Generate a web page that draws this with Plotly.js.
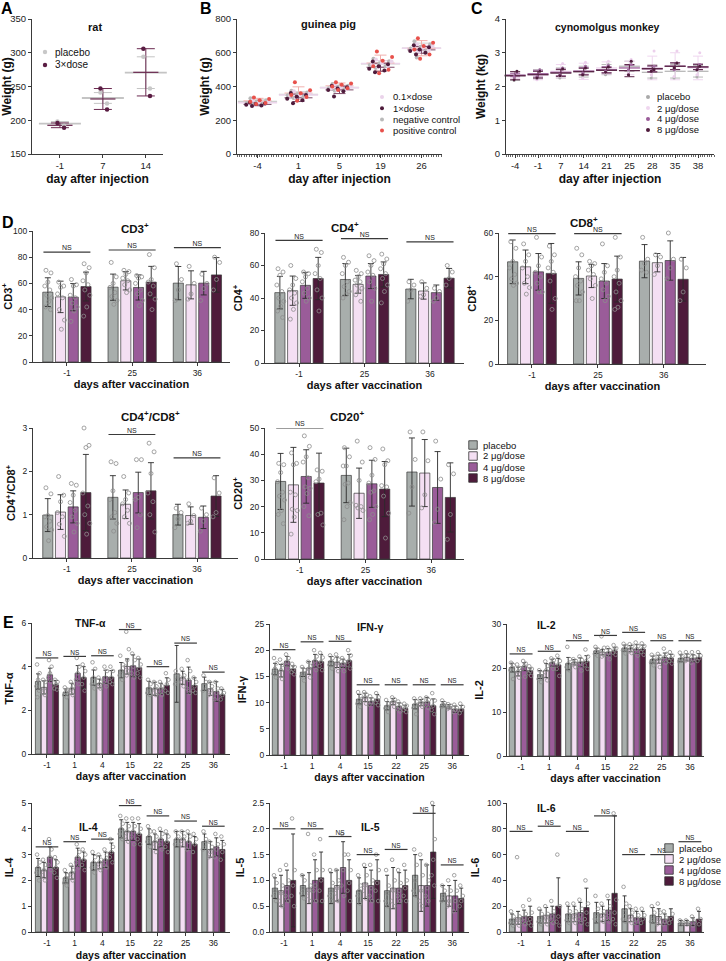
<!DOCTYPE html>
<html><head><meta charset="utf-8">
<script src="https://cdn.plot.ly/plotly-3.0.1.min.js"></script>
<style>html,body{margin:0;padding:0;background:#fff;}#chart{width:726px;height:961px;}</style>
</head><body><div id="chart"></div>
<script>
// ---------------- DATA ----------------
// Panel A (rat)
const ratDays = ['-1','7','14'];
const ratPlaceboPts = [[198,192],[241,225],[294,247]];
const ratDosePts = [[196,189],[247,216],[306,236]];
const ratPlaceboMean = [195,233,270.5];
const ratPlaceboSD = [3,8,23.5];
const ratDoseMean = [192.5,231.5,271];
const ratDoseSD = [3.5,15.5,35];

// Panel B (guinea pig)
const gpDays = ['-4','1','5','19','26'];
const gpLowPts = [[318,312,305,300,296,290],[372,360,352,345,338,330],[410,402,396,390,384,378],[560,548,540,530,522,515],[650,640,630,622,615,605]];
const gpHighPts = [[305,300,296,292,288,284],[362,350,340,328,318,301],[404,396,388,380,372,341],[548,532,520,505,495,484],[645,632,620,610,600,590]];
const gpNegPts = [[330,318,310,302,296,292],[375,365,356,348,340,332],[415,405,398,390,383,375],[565,550,538,528,520,510],[668,650,635,625,612,572]];
const gpPosPts = [[335,326,318,310,302,296],[425,378,360,350,338,316],[425,418,410,400,390,380],[607,575,552,520,500,479],[686,660,640,620,590,565]];
const gpLowMean = [304,350,393,536,627];
const gpHighMean = [294,333,380,514,617];
const gpNegMean = [311,353,394,534,627];
const gpPosMean = [315,361,404,539,627];
const gpLowSD = [10,15,12,17,17];
const gpHighSD = [8,22,22,24,20];
const gpNegSD = [14,16,14,20,30];
const gpPosSD = [15,37,17,47,45];

// Panel C (cynomolgus monkey)
const cmDays = ['-4','-1','7','14','21','25','28','35','38'];
const cmPlaceboPts = [[2.18,2.45],[2.22,2.5],[2.25,2.55],[2.28,2.6],[2.35,2.65],[2.45,2.75],[2.25,2.6],[2.25,2.65],[2.28,2.62]];
const cmPlaceboMean = [2.31,2.36,2.40,2.44,2.50,2.60,2.42,2.45,2.45];
const cmPlaceboSD = [0.13,0.14,0.15,0.16,0.15,0.15,0.17,0.20,0.17];
const cm2Pts = [[2.25,2.4],[2.2,2.48],[2.3,2.68],[2.25,2.72],[2.4,2.75],[2.4,2.8],[2.35,3.05],[2.3,3.05],[2.35,3.0]];
const cm2Mean = [2.32,2.34,2.45,2.45,2.55,2.55,2.55,2.60,2.55];
const cm2SD = [0.08,0.14,0.2,0.24,0.18,0.2,0.35,0.4,0.35];
const cm4Pts = [[2.3,2.4],[2.3,2.5],[2.35,2.55],[2.4,2.6],[2.45,2.62],[2.5,2.65],[2.45,2.6],[2.5,2.7],[2.5,2.65]];
const cm4Mean = [2.34,2.38,2.42,2.46,2.50,2.55,2.52,2.60,2.58];
const cm4SD = [0.05,0.1,0.1,0.1,0.09,0.08,0.08,0.1,0.08];
const cm8Pts = [[2.2,2.45],[2.25,2.45],[2.32,2.52],[2.35,2.55],[2.42,2.58],[2.35,2.75],[2.45,2.5],[2.55,2.7],[2.5,2.6]];
const cm8Mean = [2.32,2.35,2.40,2.44,2.48,2.47,2.53,2.60,2.58];
const cm8SD = [0.12,0.1,0.1,0.1,0.08,0.18,0.1,0.1,0.08];

// Panel D (lymphocytes), groups: placebo, 2, 4, 8 ug/dose ; days -1, 25, 36
const dDays = ['-1','25','36'];
const cd3Means = [[53.3,57.1,60.2],[49.7,62.0,58.9],[49.5,56.9,60.2],[57.6,61.0,66.5]];
const cd3SDs = [[11,10,12.7],[12,7,10.7],[10.4,9.6,9],[11,12,13.2]];
const cd3Pts = [
 [[70,68,61,58,55,51,49,46,42,40],[76,65,60,57,53,50,47,44],[75,63,55,47]],
 [[61,58,57,52,49,40,32,25],[70,69,67,64,62,59,55,53],[73,60,52,48]],
 [[63,59,58,51,49,45,42,39,31],[66,65,64,60,55,52,47,43],[67,60,56,47]],
 [[75,72,68,62,59,55,51,42,35],[82,72,63,61,58,52,48,40],[80,76,63,55]]];
const cd3NS = [83.8,85.5,87.3];

const cd4Means = [[43.3,51.4,45.5],[44.5,48.4,44.3],[47.8,53.5,43.3],[52.0,54.5,52.2]];
const cd4SDs = [[10,9.8,6],[9,5.5,5],[8,7.7,4.7],[13,7.7,6]];
const cd4Pts = [
 [[58,56,54,48,44,40,38,35,32,28],[65,62,60,55,50,47,44,42,40],[50,48,45,38]],
 [[60,52,48,45,43,40,37,33,27],[57,55,53,51,50,48,46,44,42,38],[50,46,42,41]],
 [[56,55,53,50,46,43,40,38],[66,63,60,56,54,50,46,38],[46,44,40,38]],
 [[70,68,60,55,52,45,40,32],[67,64,61,58,55,52,48,44,37],[60,56,52,48]]];
const cd4NS = [75.5,76.5,74.5];

const cd8Means = [[46.8,39.2,47.1],[44.5,40.3,46.4],[42.2,38.0,47.4],[41.5,38.9,38.8]];
const cd8SDs = [[10,7.6,7.6],[7.7,5.3,4.2],[8.4,8,9],[13.7,10.5,10]];
const cd8Pts = [
 [[56,53,47,44,41,39,37,36],[53,50,44,40,38,36,33,29,29],[58,48,46,43,42]],
 [[55,50,47,44,40,37,35,32],[47,46,45,43,41,39,36,30],[50,49,45,41]],
 [[58,49,45,42,40,37,33,33],[55,45,42,39,37,34,31,29],[60,48,44,39]],
 [[54,50,47,44,42,38,30,25],[58,49,43,40,37,33,29,26,25],[48,44,33,29]]];
const cd8NS = [59.7,59.7,61.7];

const ratioMeans = [[0.99,1.40,1.00],[1.06,1.24,0.98],[1.18,1.51,0.94],[1.51,1.55,1.43]];
const ratioSDs = [[0.38,0.5,0.24],[0.4,0.33,0.2],[0.37,0.47,0.26],[0.88,0.65,0.47]];
const ratioPts = [
 [[1.62,1.48,0.98,0.95,0.85,0.72,0.65,0.4],[2.22,2.18,1.55,1.35,1.05,0.95,0.8,0.62],[1.15,1.05,0.9,0.7]],
 [[1.88,1.45,1.3,1.05,0.95,0.78,0.5],[1.88,1.5,1.35,1.25,1.1,0.95,0.8],[1.25,0.98,0.85,0.8]],
 [[1.72,1.68,1.45,1.28,1.1,0.95,0.8,0.6],[2.27,2.27,1.4,1.35,1.0,0.7],[1.15,1.0,0.85,0.62]],
 [[3.0,2.6,2.55,1.5,1.2,1.0,0.8,0.55],[2.65,2.45,1.95,1.5,1.3,1.0,0.6],[1.85,1.5,1.05,0.95]]];
const ratioNS = [3.14,2.85,2.31];

const cd20Means = [[29.6,31.9,33.2],[28.3,25.1,32.8],[31.5,28.7,27.3],[29.0,26.7,23.5]];
const cd20SDs = [[10.7,10.4,13],[14.3,9.6,12.8],[10.2,9,13.7],[11.4,10.5,13.2]];
const cd20Pts = [
 [[36.5,36,33,29.5,25.5,24,22.5,18.5,17,13.5],[42.5,39,35.5,35.5,29,28.5,21.5,20,15],[48.5,38,27.5,17.5]],
 [[40.5,36.5,36,25.5,24.5,19,18.5,16,9.5],[45,37,30,20.5,20,19.5,18.5],[48.5,37.5,24.5,19.5]],
 [[47,43,39,37,31,27.5,27,25,20,16.5],[42.5,38,32,29,26,25.5,20,17,15],[45,30.5,19,14]],
 [[34,33.5,30.5,29.5,17.5,17,13],[42,37.5,36,28,27.5,24,17.5,8],[36,32.5,17,7.5]]];
const cd20NS = [50.0,50.3,50.4];

// Panel E (cytokines) ; days -1,1,4,15,22,25,36
const eDays = ['-1','1','4','15','22','25','36'];
const tnfMeans = [[3.32,2.83,3.50,3.84,3.03,3.67,3.22],[3.05,2.99,3.23,4.01,2.99,3.49,2.99],[3.63,3.70,3.54,4.04,2.99,3.38,2.86],[3.17,3.50,3.52,3.95,3.14,3.14,2.71]];
const tnfSDs = [[0.35,0.15,0.35,0.35,0.3,1.3,0.3],[0.3,0.25,0.2,0.35,0.3,0.3,0.3],[0.3,0.35,0.3,0.5,0.25,0.6,0.45],[0.2,0.5,0.3,0.4,0.35,0.35,0.25]];
const tnfPts = [
 [[4.1,3.7,3.4,3.1,2.9,2.6],[3.05,2.95,2.85,2.7,2.6],[4.2,3.9,3.5,3.2,3.0],[4.5,4.1,3.8,3.6,3.4],[3.4,3.2,3.0,2.8,2.7],[3.8,3.6,3.4,3.2],[3.6,3.3,3.1,2.9]],
 [[3.4,3.3,3.0,2.8,2.7],[3.3,3.1,3.0,2.8,2.7],[3.5,3.3,3.2,3.1,3.0],[5.6,4.8,4.3,4.0,3.8,3.6],[3.3,3.1,3.0,2.8,2.7],[3.9,3.6,3.5,3.3,3.1],[3.3,3.1,2.9,2.7]],
 [[4.3,4.0,3.7,3.5,3.3],[4.4,4.0,3.7,3.4,3.2],[4.0,3.8,3.5,3.3,3.1],[4.6,4.3,4.0,3.7,3.5],[3.3,3.1,3.0,2.8,2.7],[4.3,3.8,3.4,3.0,2.8],[3.3,3.0,2.8,2.5]],
 [[3.4,3.3,3.2,3.0,2.95],[4.1,3.8,3.5,3.2,2.9],[4.0,3.8,3.5,3.3,3.2],[4.4,4.1,3.9,3.7,3.5],[3.7,3.4,3.2,2.9,2.8],[3.5,3.3,3.1,2.9,2.8],[3.0,2.8,2.7,2.5]]];
const tnfNS = [4.4,4.47,4.5,5.7,4.0,5.08,3.75];

const ifnMeans = [[16.4,15.8,17.9,10.65,9.4,9.7,9.7],[16.1,16.6,17.7,11.0,10.2,10.0,9.2],[17.9,18.0,17.5,10.2,9.25,10.1,8.75],[16.4,17.8,18.0,10.65,8.9,9.4,8.75]];
const ifnSDs = [[1.1,0.8,0.9,0.9,0.8,0.9,0.5],[1.2,1.2,1.0,0.8,0.6,0.6,0.4],[0.9,1.2,0.8,0.7,0.7,0.9,0.6],[0.6,1.4,1.2,0.9,0.6,1.3,0.7]];
const ifnPts = [
 [[18.5,17.5,16.5,15.5,14.8],[16.8,16.2,15.5,15.0,14.2],[19.0,18.5,17.8,17.2,16.5],[12.0,11.3,10.5,9.8,9.2],[10.5,9.8,9.3,8.9,8.2],[10.8,10.2,9.6,9.0,7.8],[10.4,9.9,9.6,9.2]],
 [[18.2,17.2,16.2,15.2,14.5],[17.8,17.0,16.5,15.8,14.8],[19.2,18.2,17.5,16.8,16.0],[12.0,11.5,11.0,10.5,9.8],[11.0,10.6,10.2,9.8,9.2],[10.8,10.4,10.0,9.6,9.2],[9.7,9.4,9.1,8.8]],
 [[19.2,18.5,17.8,17.2,16.5],[20.0,18.8,18.0,17.2,16.2],[18.5,17.8,17.4,16.8,16.0],[11.2,10.6,10.1,9.6],[10.2,9.6,9.2,8.8,8.3],[11.0,10.5,10.1,9.5,9.0],[9.6,9.0,8.6,8.2]],
 [[17.4,16.8,16.3,15.8,15.4],[19.5,18.6,17.8,17.0,16.2],[20.0,19.0,18.0,17.2,16.5],[11.8,11.0,10.5,10.0,9.5],[9.8,9.4,9.0,8.6,8.2],[11.8,10.4,9.4,8.6,7.8],[9.8,9.2,8.6,8.0]]];
const ifnNS = [20.1,21.6,21.7,13.4,13.4,13.4,13.4];

const il2Means = [[20.1,18.5,21.0,23.9,24.5,21.9,22.2],[19.2,19.4,21.3,23.6,24.4,22.0,22.4],[20.3,21.2,21.3,23.6,24.3,22.4,22.2],[19.4,20.7,21.5,23.9,24.3,22.2,22.4]];
const il2SDs = [[1.0,0.9,1.4,0.6,0.7,0.8,0.8],[1.0,1.6,0.6,0.6,0.7,0.9,0.8],[0.9,0.8,1.0,0.8,1.0,1.0,0.8],[0.6,1.5,1.3,0.7,0.9,0.9,0.9]];
const il2Pts = [
 [[21.2,20.6,20.1,19.5,17.5],[19.5,18.8,18.2,17.5,16.8],[24.8,22.0,21.0,20.2,19.5],[24.8,24.2,23.8,23.2,22.8],[25.5,25.0,24.5,24.0,23.3],[23.0,22.5,21.8,21.2,20.6],[23.5,22.8,22.0,21.5]],
 [[20.8,20.0,19.2,18.5,17.8],[21.5,20.5,19.5,18.3,17.2],[22.0,21.6,21.2,20.8,20.2],[27.2,24.6,24.0,23.5,23.0,22.6],[25.4,25.0,24.4,23.8,23.4],[23.2,22.6,22.0,21.3,20.2],[23.6,22.8,22.2,21.6]],
 [[21.6,21.0,20.4,19.8,18.0],[22.2,21.8,21.2,20.6,19.8],[22.6,21.8,21.2,20.6,19.4],[24.6,24.0,23.5,23.0,22.0],[25.8,25.0,24.3,23.6,22.8],[24.4,23.2,22.5,21.8,21.2],[23.6,22.6,22.0,21.2]],
 [[20.4,19.8,19.3,18.8,18.2],[22.8,21.6,20.8,19.8,18.2],[24.2,22.6,21.6,20.6,19.8],[25.2,24.5,24.0,23.5,23.0],[25.6,25.0,24.3,23.6,23.0],[23.6,22.8,22.2,21.6,21.0],[23.6,22.8,22.2,21.6]]];
const il2NS = [23.2,23.8,26.2,27.4,28.1,26.2,26.2];

const il4Means = [[2.5,2.1,2.7,4.0,3.7,3.6,3.5],[2.4,2.3,2.7,3.9,3.5,3.6,3.2],[2.9,2.9,2.8,3.9,3.6,3.5,3.3],[2.5,2.8,3.1,3.8,3.5,3.4,3.2]];
const il4SDs = [[0.35,0.2,0.3,0.35,0.3,0.3,0.3],[0.3,0.25,0.25,0.35,0.3,0.3,0.3],[0.4,0.35,0.3,0.35,0.3,0.3,0.35],[0.3,0.3,0.35,0.4,0.3,0.3,0.35]];
const il4Pts = [
 [[3.0,2.7,2.5,2.3,2.0],[2.4,2.2,2.1,1.9,1.8],[3.1,2.9,2.7,2.5,2.3],[4.5,4.2,4.0,3.8,3.6],[4.1,3.9,3.7,3.5,3.3],[3.9,3.7,3.6,3.4],[3.9,3.6,3.4,3.2]],
 [[2.8,2.6,2.4,2.2,2.0],[2.6,2.4,2.3,2.1,2.0],[3.0,2.8,2.7,2.5,2.4],[4.4,4.1,3.9,3.7,3.5],[3.9,3.7,3.5,3.3,3.1],[3.9,3.7,3.6,3.4],[3.5,3.3,3.1,2.9]],
 [[3.6,3.2,2.9,2.6,2.4],[3.4,3.1,2.9,2.7,2.5],[3.2,3.0,2.8,2.6,2.5],[4.4,4.1,3.9,3.7,3.4],[4.0,3.8,3.6,3.4,3.2],[3.9,3.7,3.5,3.2],[3.8,3.4,3.2,2.9]],
 [[2.9,2.7,2.5,2.3,2.1],[3.2,3.0,2.8,2.6,2.4],[3.6,3.3,3.1,2.9,2.7],[4.4,4.0,3.8,3.6,3.4],[3.9,3.7,3.5,3.3,3.1],[3.8,3.6,3.4,3.1],[3.7,3.4,3.1,2.8]]];
const il4NS = [3.3,3.5,3.6,4.9,4.5,4.3,4.1];

const il5Means = [[0.85,0.9,0.85,0.8,0.8,1.1,0.75],[0.8,0.85,0.9,0.95,0.85,0.9,0.7],[0.9,1.0,1.25,0.9,0.85,0.9,0.7],[1.0,1.05,1.0,1.0,0.9,1.55,0.65]];
const il5SDs = [[0.2,0.2,0.3,0.25,0.3,0.4,0.15],[0.3,0.3,0.3,0.3,0.4,0.5,0.2],[0.3,0.4,0.5,0.3,0.3,0.4,0.3],[0.9,0.5,0.4,0.4,0.3,0.9,0.2]];
const il5Pts = [
 [[1.1,0.95,0.8,0.7,0.6],[1.1,1.0,0.85,0.75,0.65],[1.2,0.95,0.8,0.7,0.6],[1.1,0.9,0.8,0.7,0.55],[1.2,0.9,0.75,0.6,0.5],[1.6,1.3,1.0,0.8,0.7],[0.9,0.8,0.7,0.6]],
 [[1.2,0.9,0.75,0.6,0.5],[1.9,0.9,0.8,0.7,0.6],[1.2,1.0,0.85,0.75,0.6],[1.3,1.1,0.9,0.8,0.65],[1.4,1.0,0.8,0.6,0.5],[1.5,1.1,0.8,0.6,0.5],[1.0,0.8,0.6,0.5]],
 [[1.3,1.0,0.85,0.7,0.6],[1.5,1.2,0.9,0.8,0.6],[1.9,1.5,1.2,0.9,0.7],[1.3,1.0,0.85,0.7,0.6],[1.2,0.95,0.8,0.7,0.6],[1.3,1.0,0.85,0.7,0.6],[1.1,0.8,0.6,0.4]],
 [[2.2,1.2,0.9,0.7,0.5],[1.8,1.2,1.0,0.8,0.6],[1.5,1.2,0.95,0.8,0.6],[1.5,1.2,0.95,0.8,0.6],[1.3,1.0,0.85,0.7,0.6],[2.5,1.8,1.4,1.1,0.9],[0.9,0.7,0.6,0.5]]];
const il5NS = [2.0,2.0,1.85,1.5,1.6,2.3,1.3];

const il6Means = [[10,12,14,15,18,13,7],[11,13,14,14,13,12,7],[12,14,15,17,11,10,8],[12,20,19,30,11,12,10]];
const il6SDs = [[4,5,6,8,10,6,2],[5,6,6,6,5,6,2],[5,6,8,8,5,4,3],[8,22,15,60,5,6,6]];
const il6Pts = [
 [[16,12,9,7,5],[18,14,11,8,6],[22,16,13,9,7],[28,18,14,10,8],[35,22,15,10,8],[20,15,12,8],[9,7,6]],
 [[58,12,9,7,5],[20,14,11,8,6],[22,16,12,9,7],[22,16,13,10,8],[20,15,12,9,7],[22,15,10,6],[9,7,6]],
 [[20,14,11,8,6],[24,16,12,9,7],[25,18,13,10,7],[28,20,15,11,8],[18,13,10,7],[16,11,8,6],[12,8,5]],
 [[25,15,10,7,5],[60,20,12,8,5],[40,22,15,10,6],[92,25,15,10,6],[18,13,10,7],[40,14,10,7],[18,10,6]]];
const il6NS = [78,82,78,90,60,60,70];

const groupNames = ['placebo','2 μg/dose','4 μg/dose','8 μg/dose'];

// ---------------- DRAWING ----------------
const W = 726, H = 961;
const FONT = '"Liberation Sans", Arial, Helvetica, sans-serif';
const COLS = ['#a8aeac','#f4dff3','#9a5c99','#4e1b3b'];
const data = [];
const layout = {
  width: W, height: H, margin: {l:0, r:0, t:0, b:0},
  paper_bgcolor: '#fff', plot_bgcolor: 'rgba(0,0,0,0)',
  showlegend: false, barmode: 'overlay', hovermode: false,
  font: {family: FONT, color: '#222'},
  annotations: [], shapes: []
};

function ids(i){ return i===1 ? ['x','y','xaxis','yaxis'] : ['x'+i,'y'+i,'xaxis'+i,'yaxis'+i]; }

function addAxes(i, box, xr, yr, ticktext, st){
  const [xid, yid, xk, yk] = ids(i);
  const common = {showline:true, linecolor:'#3a3a3a', linewidth:1, ticks:'outside', ticklen:3, tickwidth:1,
    tickcolor:'#3a3a3a', showgrid:false, zeroline:false, fixedrange:true};
  layout[xk] = Object.assign({}, common, {
    domain:[box[0]/W, box[1]/W], range:xr, anchor:yid,
    tickmode:'array', tickvals:ticktext.map((_,k)=>k), ticktext:ticktext,
    tickfont:{size:st.tf, color:'#222'},
    title:{text:'<b>'+st.xt+'</b>', font:{size:st.xtf, color:'#111'}, standoff:st.xso}
  });
  if (st.minor) layout[xk].minor = {tickmode:'linear', tick0:xr[0], dtick:st.minor, ticks:'outside', ticklen:2, tickcolor:'#666', showgrid:false};
  layout[yk] = Object.assign({}, common, {
    domain:[1-box[3]/H, 1-box[2]/H], range:yr, anchor:xid,
    tickmode:'linear', tick0:st.t0, dtick:st.dt,
    tickfont:{size:st.tf, color:'#222'},
    title:{text:'<b>'+st.yt+'</b>', font:{size:st.ytf, color:'#111'}, standoff:st.yso}
  });
  if (st.yfmt) layout[yk].tickformat = st.yfmt;
  return [xid, yid];
}

function ann(text, x, y, size, extra){
  layout.annotations.push(Object.assign({text:text, x:x/W, y:1-y/H, xref:'paper', yref:'paper', showarrow:false,
    font:{size:size, color:'#111', family:FONT}, xanchor:'center', yanchor:'middle'}, extra||{}));
}
function dot(x, y, r, color){
  layout.shapes.push({type:'circle', xref:'paper', yref:'paper', xsizemode:'pixel', ysizemode:'pixel',
    xanchor:x/W, yanchor:1-y/H, x0:-r, x1:r, y0:-r, y1:r, fillcolor:color, line:{width:0}});
}
function sq(x, y, s, color){
  layout.shapes.push({type:'rect', xref:'paper', yref:'paper', xsizemode:'pixel', ysizemode:'pixel',
    xanchor:x/W, yanchor:1-y/H, x0:-s/2, x1:s/2, y0:-s/2, y1:s/2, fillcolor:color, line:{width:0.8, color:'#333'}});
}

// jittered scatter points around category centres
function jitterPts(ptsByDay, centreOff, spread){
  const xs=[], ys=[];
  ptsByDay.forEach((arr,k)=>arr.forEach((v,m)=>{
    const f = ((m*0.618 + 0.27) % 1) - 0.5;
    xs.push(k + centreOff + f*spread); ys.push(v);
  }));
  return [xs, ys];
}

function meanTrace(xid, yid, means, sds, color, size, cap, lw){
  return {type:'scatter', mode:'markers', x:means.map((_,k)=>k), y:means, xaxis:xid, yaxis:yid,
    marker:{symbol:'line-ew', size:size, color:color, line:{width:lw||1.6, color:color}},
    error_y:{type:'data', array:sds, visible:true, color:color, thickness:1, width:cap}, cliponaxis:false, hoverinfo:'skip'};
}

function ptTrace(xid, yid, xy, color, size){
  return {type:'scatter', mode:'markers', x:xy[0], y:xy[1], xaxis:xid, yaxis:yid,
    marker:{symbol:'circle', size:size, color:color}, cliponaxis:false, hoverinfo:'skip'};
}

const LETTER = {size:16, color:'#000', family:FONT};

// ---- Panel A ----
(function(){
  const [x,y] = addAxes(1, [32,163,19,154], [-0.65,2.4], [150,350], ratDays,
    {tf:9.5, xt:'day after injection', xtf:12, xso:4, yt:'Weight (g)', ytf:12, yso:3, t0:150, dt:50});
  data.push(meanTrace(x,y,ratPlaceboMean,ratPlaceboSD,'#c4c4c4',30,9,1.8));
  data.push(meanTrace(x,y,ratDoseMean,ratDoseSD,'#6b2a50',18,9,1.2));
  data.push(ptTrace(x,y,jitterPts(ratPlaceboPts,0,0.25),'#c8c8c8',4.5));
  data.push(ptTrace(x,y,jitterPts(ratDosePts,0,0.25),'#5a1d43',4.5));
  ann('<b>rat</b>', 95, 27, 11);
  ann('<b>A</b>', 7, 8, 16, {font:LETTER});
  dot(45,52,2.2,'#c8c8c8'); ann('placebo', 53, 52, 10, {xanchor:'left'});
  dot(45,65,2.2,'#5a1d43'); ann('3×dose', 53, 65, 10, {xanchor:'left'});
})();

// ---- Panel B ----
(function(){
  const [x,y] = addAxes(2, [237,442,19,154], [-0.5,4.5], [0,800], gpDays,
    {tf:9.5, xt:'day after injection', xtf:12, xso:4, yt:'Weight (g)', ytf:12, yso:3, t0:0, dt:200, minor:0.06});
  data.push(meanTrace(x,y,gpNegMean,gpNegSD,'#cfcfcf',28,8,1.4));
  data.push(meanTrace(x,y,gpLowMean,gpLowSD,'#ecd6ec',28,8,1.4));
  data.push(meanTrace(x,y,gpPosMean,gpPosSD,'#f1b0ad',20,6,1));
  data.push(meanTrace(x,y,gpHighMean,gpHighSD,'#7d4a68',20,6,1));
  data.push(ptTrace(x,y,jitterPts(gpNegPts,-0.03,0.62),'#b9b9b9',4));
  data.push(ptTrace(x,y,jitterPts(gpLowPts,0.03,0.62),'#ead3ea',4));
  data.push(ptTrace(x,y,jitterPts(gpHighPts,-0.05,0.6),'#4e1b3b',4));
  data.push(ptTrace(x,y,jitterPts(gpPosPts,0.05,0.6),'#e8514b',4));
  ann('<b>guinea pig</b>', 328, 24, 11);
  ann('<b>B</b>', 206, 8, 16, {font:LETTER});
  const lc = ['#ead3ea','#4e1b3b','#b9b9b9','#e8514b'];
  const lt = ['0.1×dose','1×dose','negative control','positive control'];
  lt.forEach((t,k)=>{ dot(382, 97+11.2*k, 2, lc[k]); ann(t, 391, 97+11.2*k, 9.5, {xanchor:'left'}); });
})();

// ---- Panel C ----
(function(){
  const [x,y] = addAxes(3, [506,714,19,154], [-0.4,8.7], [0,4], cmDays,
    {tf:9.5, xt:'day after injection', xtf:12, xso:4, yt:'Weight (kg)', ytf:12, yso:6, t0:0, dt:1, minor:0.1});
  data.push(meanTrace(x,y,cmPlaceboMean,cmPlaceboSD,'#b8b8b8',15,5,1.3));
  data.push(meanTrace(x,y,cm2Mean,cm2SD,'#efd6ef',15,5,1.3));
  data.push(meanTrace(x,y,cm4Mean,cm4SD,'#a26ca1',15,5,1.3));
  data.push(meanTrace(x,y,cm8Mean,cm8SD,'#5a2547',15,5,1.3));
  data.push(ptTrace(x,y,jitterPts(cmPlaceboPts,0,0.2),'#b0b0b0',3));
  data.push(ptTrace(x,y,jitterPts(cm2Pts,0,0.2),'#ecd0ec',3));
  data.push(ptTrace(x,y,jitterPts(cm4Pts,0,0.2),'#a26ca1',3));
  data.push(ptTrace(x,y,jitterPts(cm8Pts,0,0.2),'#4e1b3b',3));
  ann('<b>cynomolgus monkey</b>', 607, 27, 10.5);
  ann('<b>C</b>', 477, 8, 16, {font:LETTER});
  const lc = ['#a9a9a9','#efd6ef','#9a5c99','#4e1b3b'];
  groupNames.forEach((t,k)=>{ dot(648, 97+11*k, 2, lc[k]); ann(t, 655, 97+11*k, 9.5, {xanchor:'left'}); });
})();

// ---- generic bar panel ----
function barPanel(i, box, xr, yr, days, means, sds, pts, ns, st){
  const [x,y] = addAxes(i, box, xr, yr, days, st);
  const bw = st.bw, gap = st.gap, total = 4*bw + 3*gap;
  for (let g=0; g<4; g++){
    const off = -total/2 + g*(bw+gap);
    data.push({type:'bar', x:days.map((_,k)=>k), y:means[g], width:bw, offset:off, xaxis:x, yaxis:y,
      marker:{color:COLS[g], line:{color:'#3a3a3a', width:0.7}},
      error_y:{type:'data', array:sds[g], visible:true, color:'#2a2a2a', thickness:0.9, width:st.cap}, hoverinfo:'skip'});
  }
  for (let g=0; g<4; g++){
    const off = -total/2 + g*(bw+gap) + bw/2;
    const xy = jitterPts(pts[g], off, bw*0.8);
    data.push({type:'scatter', mode:'markers', x:xy[0], y:xy[1], xaxis:x, yaxis:y,
      marker:{symbol:'circle-open', size:st.ms, color:'#8d8d8d', line:{width:0.8}}, cliponaxis:false, hoverinfo:'skip'});
  }
  const lx=[], ly=[];
  ns.forEach((h,k)=>{ lx.push(k-total/2+0.01, k+total/2-0.01, null); ly.push(h,h,null); });
  data.push({type:'scatter', mode:'lines', x:lx, y:ly, xaxis:x, yaxis:y, line:{color:'#3a3a3a', width:1.2}, hoverinfo:'skip'});
  data.push({type:'scatter', mode:'text', x:ns.map((_,k)=>k), y:ns, text:ns.map(()=>'NS'), textposition:'top center',
    textfont:{size:st.nsf, color:'#222', family:FONT}, xaxis:x, yaxis:y, cliponaxis:false, hoverinfo:'skip'});
}

const dSt = {tf:8.5, xt:'days after vaccination', xtf:11, xso:3, ytf:11, yso:4, bw:0.155, gap:0.04, cap:3, ms:4, nsf:7};
barPanel(4, [33,230,231,362], [-0.52,2.5], [0,100], dDays, cd3Means, cd3SDs, cd3Pts, cd3NS, Object.assign({}, dSt, {yt:'CD3<sup>+</sup>', t0:0, dt:20}));
barPanel(5, [265,464,233,363], [-0.52,2.52], [0,80], dDays, cd4Means, cd4SDs, cd4Pts, cd4NS, Object.assign({}, dSt, {yt:'CD4<sup>+</sup>', t0:0, dt:20}));
barPanel(6, [499,706,233,364], [-0.5,2.64], [0,60], dDays, cd8Means, cd8SDs, cd8Pts, cd8NS, Object.assign({}, dSt, {yt:'CD8<sup>+</sup>', t0:0, dt:20}));
barPanel(7, [33,238,428,558], [-0.52,2.63], [0,3], dDays, ratioMeans, ratioSDs, ratioPts, ratioNS, Object.assign({}, dSt, {yt:'CD4<sup>+</sup>/CD8<sup>+</sup>', t0:0, dt:1}));
barPanel(8, [265,464,428,559], [-0.53,2.5], [0,50], dDays, cd20Means, cd20SDs, cd20Pts, cd20NS, Object.assign({}, dSt, {yt:'CD20<sup>+</sup>', t0:0, dt:10}));
ann('<b>CD3<sup>+</sup></b>', 135, 228, 11.5);
ann('<b>CD4<sup>+</sup></b>', 345, 227, 11.5);
ann('<b>CD8<sup>+</sup></b>', 584, 222, 11.5);
ann('<b>CD4<sup>+</sup>/CD8<sup>+</sup></b>', 150, 416, 11.5);
ann('<b>CD20<sup>+</sup></b>', 347, 416, 11.5);
ann('<b>D</b>', 8, 222, 16, {font:LETTER});
groupNames.forEach((t,k)=>{ sq(473, 445+11*k, 8.5, COLS[k]); ann(t, 481, 445+11*k, 9.5, {xanchor:'left'}); });

const eSt = {tf:8.5, xt:'days after vaccination', xtf:10.5, xso:2, ytf:11, yso:5, bw:0.19, gap:0.025, cap:2, ms:3.6, nsf:6.5};
barPanel(9,  [32,230,623,754], [-0.54,6.6], [0,6], eDays, tnfMeans, tnfSDs, tnfPts, tnfNS, Object.assign({}, eSt, {yt:'TNF-α', t0:0, dt:2}));
barPanel(10, [270,469,624,755], [-0.5,6.6], [0,25], eDays, ifnMeans, ifnSDs, ifnPts, ifnNS, Object.assign({}, eSt, {yt:'IFN-γ', t0:0, dt:5}));
barPanel(11, [507,704,624,756], [-0.5,6.5], [0,30], eDays, il2Means, il2SDs, il2Pts, il2NS, Object.assign({}, eSt, {yt:'IL-2', t0:0, dt:10}));
barPanel(12, [32,230,803,932], [-0.54,6.6], [0,5], eDays, il4Means, il4SDs, il4Pts, il4NS, Object.assign({}, eSt, {yt:'IL-4', t0:0, dt:1, xso:4}));
barPanel(13, [270,469,803,932], [-0.5,6.6], [0,2.5], eDays, il5Means, il5SDs, il5Pts, il5NS, Object.assign({}, eSt, {yt:'IL-5', t0:0, dt:0.5, yfmt:'.1f', xso:4}));
barPanel(14, [507,704,803,932], [-0.5,6.5], [0,100], eDays, il6Means, il6SDs, il6Pts, il6NS, Object.assign({}, eSt, {yt:'IL-6', t0:0, dt:20, xso:4}));
ann('<b>TNF-α</b>', 90, 623, 10.5);
ann('<b>IFN-γ</b>', 370, 627, 10.5);
ann('<b>IL-2</b>', 546, 625, 10.5);
ann('<b>IL-4</b>', 88, 827, 10.5);
ann('<b>IL-5</b>', 370, 827, 10.5);
ann('<b>IL-6</b>', 546, 808, 10.5);
ann('<b>E</b>', 8, 622, 16, {font:LETTER});
groupNames.forEach((t,k)=>{ sq(669, 848+11*k, 8.5, COLS[k]); ann(t, 677, 848+11*k, 9.5, {xanchor:'left'}); });

Plotly.newPlot('chart', data, layout, {displayModeBar:false, staticPlot:true});
</script></body></html>
